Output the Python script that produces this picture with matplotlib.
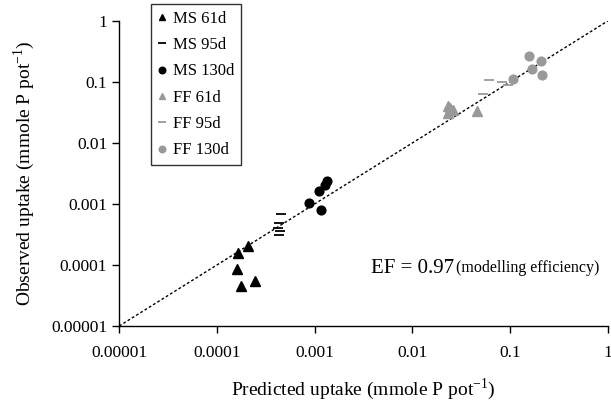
import matplotlib
matplotlib.use("Agg")
import matplotlib.pyplot as plt

plt.rcParams['font.family'] = ['Liberation Serif', 'DejaVu Serif']
plt.rcParams['mathtext.fontset'] = 'custom'
plt.rcParams['mathtext.rm'] = 'Liberation Serif'

# predicted (x) and observed (y) uptake, mmole P per pot
ms61_pred = [1.64e-4, 2.07e-4, 1.61e-4, 1.75e-4, 2.44e-4]
ms61_obs = [1.59e-4, 2.05e-4, 8.7e-5, 4.5e-5, 5.5e-5]
ms95_pred = [4.5e-4, 4.3e-4, 4.2e-4, 4.4e-4, 4.3e-4]
ms95_obs = [6.9e-4, 4.9e-4, 4.0e-4, 3.6e-4, 3.1e-4]
ms130_pred = [1.33e-3, 1.28e-3, 1.12e-3, 8.8e-4, 1.15e-3]
ms130_obs = [2.41e-3, 2.05e-3, 1.63e-3, 1.05e-3, 8.0e-4]
ff61_pred = [0.0233, 0.0242, 0.0233, 0.0258, 0.0454]
ff61_obs = [0.0405, 0.037, 0.0314, 0.0347, 0.0335]
ff95_pred = [0.0611, 0.0818, 0.0955, 0.0531]
ff95_obs = [0.108, 0.100, 0.0883, 0.0636]
ff130_pred = [0.157, 0.207, 0.167, 0.211, 0.106]
ff130_obs = [0.27, 0.221, 0.162, 0.129, 0.112]

ticks = [1e-5, 1e-4, 1e-3, 1e-2, 1e-1, 1]
tick_labels = ["0.00001", "0.0001", "0.001", "0.01", "0.1", "1"]

black = "black"
grey = "#999999"

fig = plt.figure(figsize=(6.11, 4.01), dpi=100)
ax = fig.add_axes([0.195, 0.187, 0.8, 0.761])

# 1:1 line
ax.plot([1e-5, 1], [1e-5, 1], color="black", lw=1, ls=(0, (2, 1.6)), zorder=1)

ax.plot(ms61_pred, ms61_obs, ls="none", marker="^", ms=6.5, color=black, label="MS 61d")
ax.plot(ms95_pred, ms95_obs, ls="none", marker="_", ms=7, mew=1.3, color=black, label="MS 95d")
ax.plot(ms130_pred, ms130_obs, ls="none", marker="o", ms=6.3, color=black, label="MS 130d")
ax.plot(ff61_pred, ff61_obs, ls="none", marker="^", ms=6.5, color=grey, label="FF 61d")
ax.plot(ff95_pred, ff95_obs, ls="none", marker="_", ms=7, mew=1.3, color=grey, label="FF 95d")
ax.plot(ff130_pred, ff130_obs, ls="none", marker="o", ms=6.3, color=grey, label="FF 130d")

ax.set_xscale("log")
ax.set_yscale("log")
ax.set_xlim(1e-5, 1)
ax.set_ylim(1e-5, 1)
ax.set_xticks(ticks, tick_labels)
ax.set_yticks(ticks, tick_labels)
ax.minorticks_off()
ax.tick_params(direction="out", length=5, width=1, labelsize=12.5, colors="black")
ax.tick_params(axis="x", pad=9)

for s in ["top", "right"]:
    ax.spines[s].set_visible(False)
for s in ["left", "bottom"]:
    ax.spines[s].set_linewidth(1)

ax.set_xlabel("Predicted uptake (mmole P pot$^{-1}$)", fontsize=14, labelpad=11)
ax.set_ylabel("Observed uptake (mmole P pot$^{-1}$)", fontsize=14, labelpad=10)

ax.text(0.515, 0.19, "EF = 0.97", transform=ax.transAxes, fontsize=15, va="center")
ax.text(0.69, 0.19, "(modelling efficiency)", transform=ax.transAxes, fontsize=11.5, va="center")

leg = ax.legend(loc="upper left", bbox_to_anchor=(0.247, 0.99), bbox_transform=fig.transFigure,
                borderaxespad=0, fontsize=12, handlelength=0.5, handletextpad=0.4,
                labelspacing=0.62, borderpad=0.4, fancybox=False, markerscale=0.75)
leg.get_frame().set_edgecolor("black")
leg.get_frame().set_linewidth(1)

fig.savefig("out.png", dpi=100)
